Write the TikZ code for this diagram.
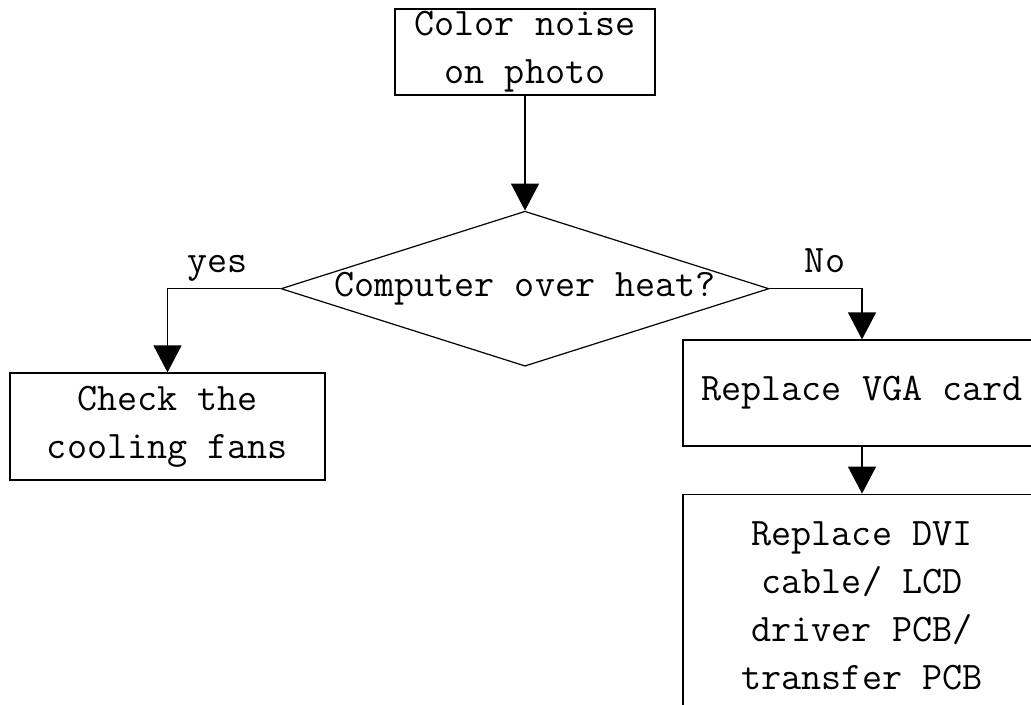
\documentclass[tikz,border=0pt]{standalone}
\usepackage{fontspec}
\usetikzlibrary{arrows.meta, positioning, shapes.geometric}

\begin{document}
\begin{tikzpicture}[
        x=0.5pt, y=-0.5pt,
        font=\ttfamily\fontsize{19.5}{24}\selectfont,
        stepbox/.style={draw, line width=0.6pt, align=center, inner sep=0pt},
        decision/.style={draw, diamond, line width=0.6pt, aspect=3.15, inner sep=0pt, minimum width=244pt, minimum height=77.5pt},
        arrow/.style={-{Triangle[length=13.5pt, width=14pt]}, line width=0.6pt},
        branch/.style={above, text depth=0.22em, yshift=2.5pt}
    ]
        \clip (0,0) rectangle (1031,705);
        \node[stepbox, minimum width=130pt, minimum height=43pt] (noise) at (525,52) {Color noise\\on photo};

        % diamond centered under the first box
        \node[decision, below=57.5pt of noise] (heat) {Computer over heat?};

        \node[stepbox, minimum width=157.5pt, minimum height=53.5pt] (fans) at (167.5,426.5) {Check the\\cooling fans};
        \node[stepbox, minimum width=179pt, minimum height=53pt] (vga) at (862,393) {Replace VGA card};

        % runs past the lower edge of the picture
        \node[stepbox, minimum width=179pt, minimum height=112pt, below=23.5pt of vga] (dvi) {Replace DVI\\cable/ LCD\\driver PCB/\\transfer PCB};

        \draw[arrow] (noise) -- (heat);
        \draw[arrow] (heat.west) -| node[branch, pos=0.28] {yes} (fans);
        \draw[arrow] (heat.east) -| node[branch, pos=0.3] {No} (vga);
        \draw[arrow] (vga) -- (dvi);
    \end{tikzpicture}
\end{document}
